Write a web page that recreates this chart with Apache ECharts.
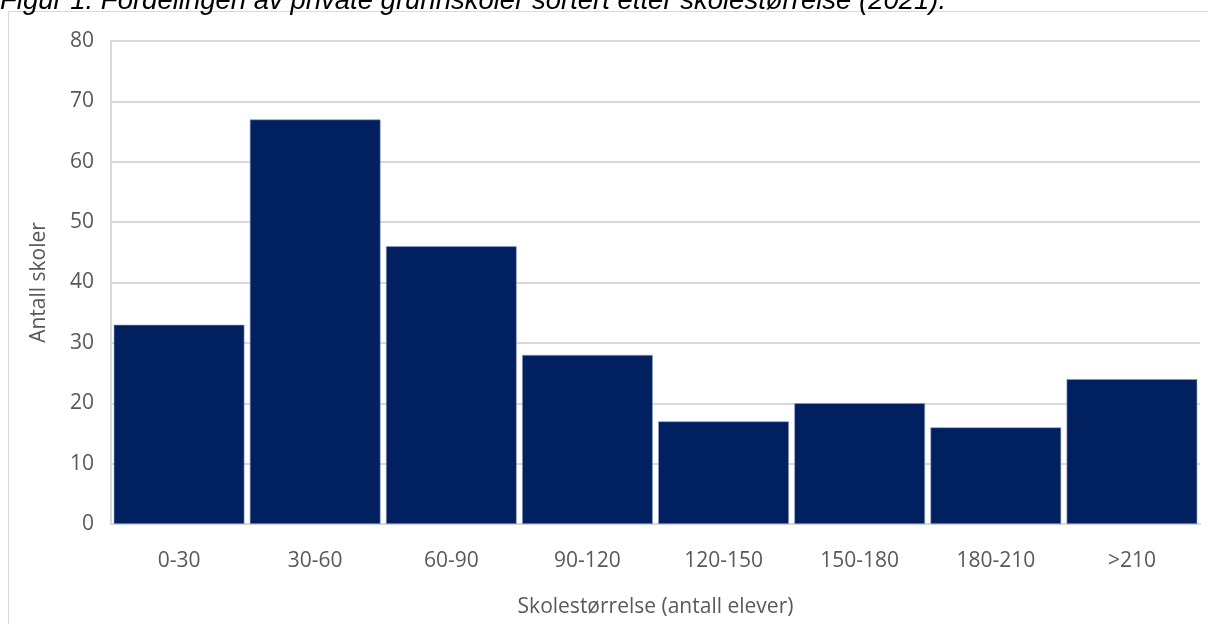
<!DOCTYPE html>
<html>
<head>
<meta charset="utf-8">
<script src="https://cdn.jsdelivr.net/npm/echarts@6/dist/echarts.min.js"></script>
<style>
  html, body { margin: 0; padding: 0; background: #fff; }
  #chart { width: 1208px; height: 624px; }
</style>
</head>
<body>
<div id="chart"></div>
<script>
// Skolestørrelse-intervaller og antall private grunnskoler i hvert intervall
const categories = ['0-30', '30-60', '60-90', '90-120', '120-150', '150-180', '180-210', '>210'];
const schoolCounts = [33, 67, 46, 28, 17, 20, 16, 24];
const yTicks = { min: 0, max: 80, interval: 10 };

const titleText = 'Figur 1. Fordelingen av private grunnskoler sortert etter skolestørrelse (2021).';
const xAxisTitle = 'Skolestørrelse (antall elever)';
const yAxisTitle = 'Antall skoler';

const textColor = '#595959';
const font = '"Open Sans", "Noto Sans", sans-serif';

const chart = echarts.init(document.getElementById('chart'), null, { renderer: 'canvas' });

chart.setOption({
  animation: false,
  backgroundColor: '#ffffff',
  graphic: [
    {
      type: 'rect',
      shape: { x: 8.5, y: 11.5, width: 1210, height: 630 },
      style: { fill: 'none', stroke: '#d9d9d9', lineWidth: 1 },
      silent: true,
      z: -1
    },
    {
      type: 'text',
      left: 0,
      top: -12,
      style: {
        text: titleText,
        font: 'italic 27.5px "Liberation Sans", Arial, sans-serif',
        fill: '#000000'
      }
    }
  ],
  grid: { left: 111, right: 8, top: 41, bottom: 100, containLabel: false },
  xAxis: {
    type: 'category',
    data: categories,
    name: xAxisTitle,
    nameLocation: 'middle',
    nameGap: 73,
    nameTextStyle: { color: textColor, fontSize: 21, fontFamily: font },
    axisLine: { show: true, lineStyle: { color: '#d9d9d9', width: 2 } },
    axisTick: { show: false },
    axisLabel: { color: textColor, fontSize: 21, fontFamily: font, margin: 27 }
  },
  yAxis: {
    type: 'value',
    min: yTicks.min,
    max: yTicks.max,
    interval: yTicks.interval,
    name: yAxisTitle,
    nameLocation: 'middle',
    nameGap: 61,
    nameRotate: 90,
    nameTextStyle: { color: textColor, fontSize: 21, fontFamily: font },
    axisLine: { show: true, lineStyle: { color: '#d9d9d9', width: 2 } },
    axisTick: { show: false },
    axisLabel: { color: textColor, fontSize: 21, fontFamily: font, margin: 17 },
    splitLine: { show: true, lineStyle: { color: '#d9d9d9', width: 2 } }
  },
  series: [
    {
      type: 'bar',
      data: schoolCounts,
      barCategoryGap: '4%',
      itemStyle: { color: '#002060', borderColor: '#8ea0c4', borderWidth: 0.6 }
    }
  ]
});
</script>
</body>
</html>
